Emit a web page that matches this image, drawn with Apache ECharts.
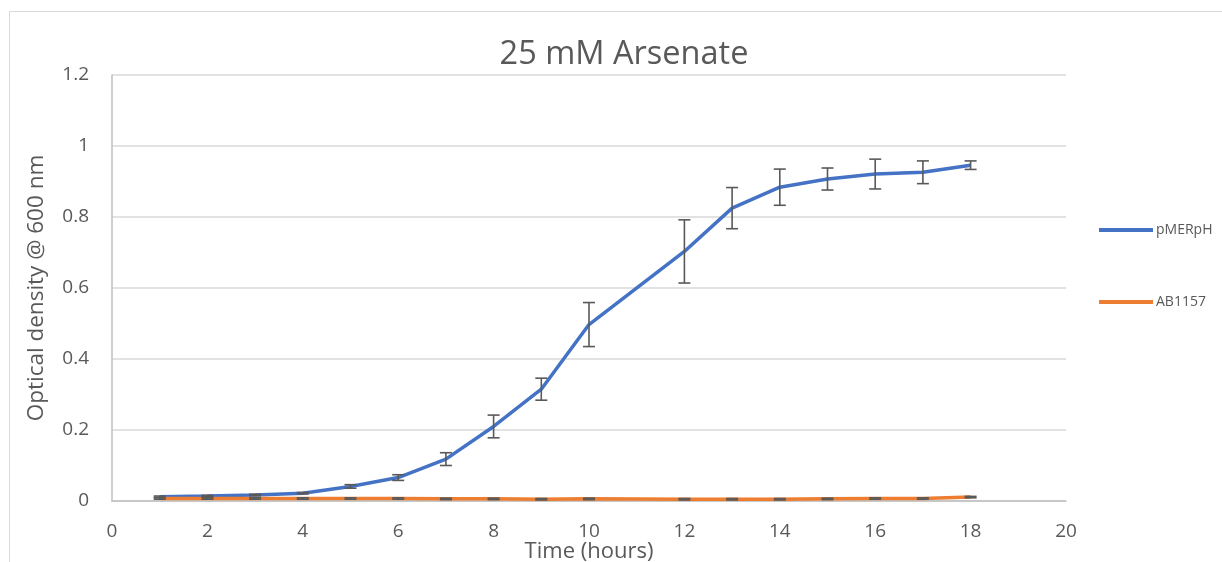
<!DOCTYPE html>
<html><head><meta charset="utf-8">
<script src="https://cdn.jsdelivr.net/npm/echarts@6/dist/echarts.min.js"></script>
<style>html,body{margin:0;padding:0;background:#fff}#c{width:1222px;height:562px}</style>
</head><body><div id="c"></div>
<script>
var hours = [1,2,3,4,5,6,7,8,9,10,12,13,14,15,16,17,18];
var pMERpH = [0.012,0.014,0.017,0.022,0.041,0.066,0.118,0.21,0.315,0.497,0.703,0.825,0.884,0.907,0.921,0.926,0.946];
var pMERpHErr = [0.002,0.002,0.002,0.002,0.005,0.008,0.018,0.032,0.031,0.062,0.089,0.058,0.051,0.031,0.042,0.032,0.012];
var AB1157 = [0.007,0.007,0.007,0.007,0.007,0.007,0.006,0.006,0.005,0.006,0.005,0.005,0.005,0.006,0.007,0.007,0.011];
var AB1157Err = [0.002,0.002,0.002,0.002,0.002,0.002,0.002,0.002,0.002,0.002,0.002,0.002,0.002,0.002,0.002,0.002,0.002];
var yTicks = [0,0.2,0.4,0.6,0.8,1,1.2];

var FONT = '"Open Sans", "Liberation Sans", sans-serif';
var TXT = '#595959';

function pairs(ys){ return hours.map(function(h,i){ return [h, ys[i]]; }); }
function errs(ys, es){ return hours.map(function(h,i){ return [h, ys[i]-es[i], ys[i]+es[i]]; }); }

function errRender(params, api){
  var x = api.value(0);
  var lo = api.coord([x, api.value(1)]);
  var hi = api.coord([x, api.value(2)]);
  var w = 6;
  var st = {stroke:'#595959', lineWidth:1.6};
  return {type:'group', children:[
    {type:'line', shape:{x1:lo[0],y1:lo[1],x2:hi[0],y2:hi[1]}, style:st},
    {type:'line', shape:{x1:lo[0]-w,y1:lo[1],x2:lo[0]+w,y2:lo[1]}, style:st},
    {type:'line', shape:{x1:hi[0]-w,y1:hi[1],x2:hi[0]+w,y2:hi[1]}, style:st}
  ]};
}

var chart = echarts.init(document.getElementById('c'), null, {renderer:'canvas'});
chart.setOption({
  animation:false,
  backgroundColor:'#fff',
  textStyle:{fontFamily:FONT},
  title:{text:'25 mM Arsenate', left:619, textAlign:'center', top:33,
    textStyle:{fontFamily:FONT, fontSize:32.5, fontWeight:'normal', color:TXT}},
  graphic:[{type:'rect', shape:{x:9.5,y:11.5,width:1300,height:700}, style:{fill:'none', stroke:'#d9d9d9', lineWidth:1}, silent:true, z:-10}],
  legend:{orient:'vertical', left:1094, top:218, itemGap:58, itemWidth:54, itemHeight:4,
    icon:'rect', textStyle:{fontFamily:FONT, fontSize:14, color:TXT, padding:[0,0,0,-2]},
    data:['pMERpH','AB1157']},
  grid:{left:112, right:1222-1066, top:75, bottom:562-501, containLabel:false, outerBoundsMode:'none'},
  xAxis:{type:'value', min:0, max:20, interval:2,
    name:'Time (hours)', nameLocation:'middle', nameGap:40, nameMoveOverlap:false,
    nameTextStyle:{fontFamily:FONT, fontSize:22, color:TXT, verticalAlign:'top'},
    axisLine:{show:true, lineStyle:{color:'#bfbfbf', width:1.5}},
    axisTick:{show:false}, splitLine:{show:false},
    axisLabel:{fontFamily:FONT, fontSize:19, color:TXT, margin:21}},
  yAxis:{type:'value', min:yTicks[0], max:yTicks[yTicks.length-1], interval:0.2,
    name:'Optical density @ 600 nm', nameLocation:'middle', nameGap:64, nameMoveOverlap:false,
    nameTextStyle:{fontFamily:FONT, fontSize:22.5, color:TXT},
    axisLine:{show:true, lineStyle:{color:'#bfbfbf', width:1.5}},
    axisTick:{show:false},
    splitLine:{show:true, lineStyle:{color:'#d9d9d9', width:1.5}},
    axisLabel:{fontFamily:FONT, fontSize:19, color:TXT, margin:23}},
  series:[
    {name:'pMERpH', type:'line', data:pairs(pMERpH), showSymbol:false, symbol:'none',
      lineStyle:{color:'#4472C4', width:3.5}, itemStyle:{color:'#4472C4'}, z:3},
    {name:'AB1157', type:'line', data:pairs(AB1157), showSymbol:false, symbol:'none',
      lineStyle:{color:'#ED7D31', width:3.5}, itemStyle:{color:'#ED7D31'}, z:3},
    {name:'pMERpH err', type:'custom', renderItem:errRender, data:errs(pMERpH,pMERpHErr), z:4, encode:{x:0,y:[1,2]}},
    {name:'AB1157 err', type:'custom', renderItem:errRender, data:errs(AB1157,AB1157Err), z:4, encode:{x:0,y:[1,2]}}
  ]
});
</script></body></html>
